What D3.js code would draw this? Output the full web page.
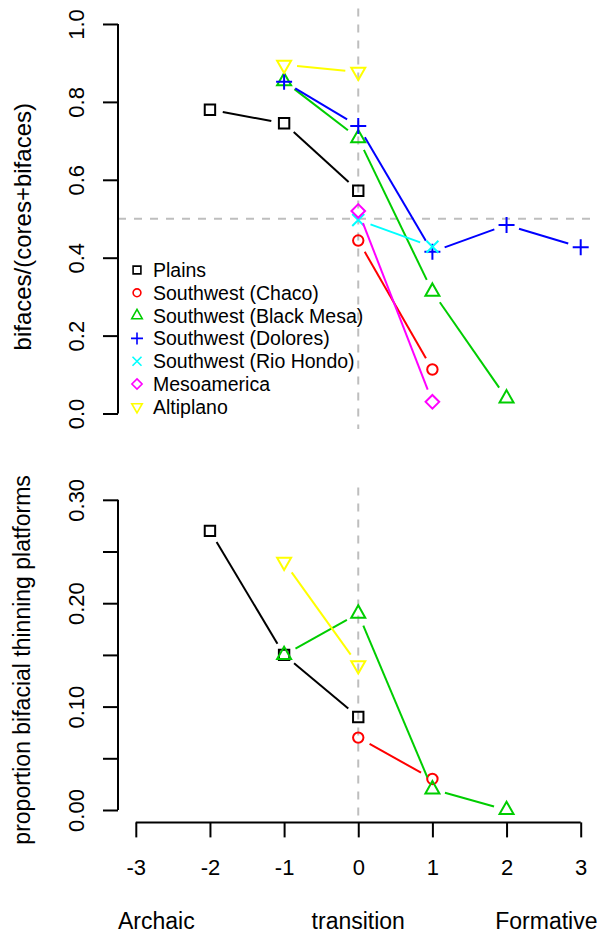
<!DOCTYPE html>
<html>
<head>
<meta charset="utf-8">
<script src="https://cdn.jsdelivr.net/npm/d3@7/dist/d3.min.js"></script>
<style>
body { margin: 0; background: #fff; }
svg text { font-family: "Liberation Sans", Arial, Helvetica, sans-serif; fill: #000; }
</style>
</head>
<body>
<div id="chart"></div>
<script>
var periods = [-3, -2, -1, 0, 1, 2, 3];
var eraLabels = ["Archaic", "transition", "Formative"];
var regions = ["Plains", "Southwest (Chaco)", "Southwest (Black Mesa)", "Southwest (Dolores)",
               "Southwest (Rio Hondo)", "Mesoamerica", "Altiplano"];
var regionColors = ["#000000", "#ff0000", "#00cd00", "#0000ff", "#00ffff", "#ff00ff", "#ffff00"];
var regionSymbols = ["square", "circle", "triangleUp", "plus", "cross", "diamond", "triangleDown"];

// top panel: bifaces/(cores+bifaces)
var plainsX = [-2, -1, 0],          plainsBiface = [0.78, 0.745, 0.572];
var chacoX = [0, 1],                chacoBiface = [0.444, 0.113];
var blackMesaX = [-1, 0, 1, 2],     blackMesaBiface = [0.853, 0.707, 0.313, 0.039];
var doloresX = [-1, 0, 1, 2, 3],    doloresBiface = [0.852, 0.738, 0.415, 0.484, 0.427];
var rioHondoX = [0, 1],             rioHondoBiface = [0.497, 0.428];
var mesoX = [0, 1],                 mesoBiface = [0.52, 0.03];
var altiplanoX = [-1, 0],           altiplanoBiface = [0.895, 0.877];

// bottom panel: proportion bifacial thinning platforms
var plainsBtfX = [-2, -1, 0],       plainsBtf = [0.27, 0.15, 0.09];
var chacoBtfX = [0, 1],             chacoBtf = [0.07, 0.03];
var blackMesaBtfX = [-1, 0, 1, 2],  blackMesaBtf = [0.15, 0.19, 0.02, 0.0];
var altiplanoBtfX = [-1, 0],        altiplanoBtf = [0.24, 0.14];

var topTicks = [0, 0.2, 0.4, 0.6, 0.8, 1.0];
var bottomTicks = [0, 0.05, 0.10, 0.15, 0.20, 0.25, 0.30];
var bottomLabelTicks = [0, 0.10, 0.20, 0.30];

var topSeries = [
  {r: 0, x: plainsX, y: plainsBiface},
  {r: 1, x: chacoX, y: chacoBiface},
  {r: 2, x: blackMesaX, y: blackMesaBiface},
  {r: 3, x: doloresX, y: doloresBiface},
  {r: 4, x: rioHondoX, y: rioHondoBiface},
  {r: 5, x: mesoX, y: mesoBiface},
  {r: 6, x: altiplanoX, y: altiplanoBiface}
];
var bottomSeries = [
  {r: 0, x: plainsBtfX, y: plainsBtf},
  {r: 1, x: chacoBtfX, y: chacoBtf},
  {r: 2, x: blackMesaBtfX, y: blackMesaBtf},
  {r: 6, x: altiplanoBtfX, y: altiplanoBtf}
];

var W = 597, H = 935;
var svg = d3.select("#chart").append("svg")
            .attr("width", W)
            .attr("height", H);

var x = d3.scaleLinear().domain([-3.24, 3.24]).range([118, 598.5]);
var yTop = d3.scaleLinear().domain([-0.04, 1.04]).range([429.1, 8.4]);
var yBot = d3.scaleLinear().domain([-0.012, 0.312]).range([822.4, 487.4]);

var symbolPath = function(type, k) {
  var s = 5.2 * k, p = 8 * k, c = 6 * k, d = 6.8 * k;
  var tr = 8.2 * k, tx = 7 * k, ty = 4.1 * k;
  switch (type) {
    case "square": return "M" + (-s) + "," + (-s) + "h" + 2 * s + "v" + 2 * s + "h" + (-2 * s) + "Z";
    case "circle": var r = 5.2 * k;
      return "M" + r + ",0A" + r + "," + r + " 0 1,1 " + (-r) + ",0A" + r + "," + r + " 0 1,1 " + r + ",0Z";
    case "triangleUp": return "M0," + (-tr) + "L" + tx + "," + ty + "L" + (-tx) + "," + ty + "Z";
    case "triangleDown": return "M0," + tr + "L" + tx + "," + (-ty) + "L" + (-tx) + "," + (-ty) + "Z";
    case "plus": return "M" + (-p) + ",0H" + p + "M0," + (-p) + "V" + p;
    case "cross": return "M" + (-c) + "," + (-c) + "L" + c + "," + c + "M" + (-c) + "," + c + "L" + c + "," + (-c);
    case "diamond": return "M0," + (-d) + "L" + d + ",0L0," + d + "L" + (-d) + ",0Z";
  }
};

// type="b" style: segments stop short of the points
var drawSeries = function(g, series, yScale) {
  var gap = 13;
  series.forEach(function(s) {
    var col = regionColors[s.r];
    var pts = s.x.map(function(v, i) { return [x(v), yScale(s.y[i])]; });
    var sg = g.append("g");
    for (var i = 0; i < pts.length - 1; i++) {
      var a = pts[i], b = pts[i + 1];
      var dx = b[0] - a[0], dy = b[1] - a[1], len = Math.sqrt(dx * dx + dy * dy);
      if (len <= 2 * gap) continue;
      var ux = dx / len, uy = dy / len;
      sg.append("line")
        .attr("x1", a[0] + ux * gap).attr("y1", a[1] + uy * gap)
        .attr("x2", b[0] - ux * gap).attr("y2", b[1] - uy * gap)
        .style("stroke", col)
        .style("stroke-width", 2);
    }
    sg.selectAll("path.pt")
      .data(pts)
      .enter().append("path")
      .attr("class", "pt")
      .attr("transform", function(d) { return "translate(" + d[0] + "," + d[1] + ")"; })
      .attr("d", symbolPath(regionSymbols[s.r], 1))
      .style("fill", "none")
      .style("stroke", col)
      .style("stroke-width", 2);
  });
};

var leftAxis = function(g, yScale, ticks, labelTicks, fmt) {
  g.attr("transform", "translate(" + x.range()[0] + ",0)")
   .call(d3.axisLeft(yScale).tickValues(ticks).tickSize(15)
           .tickFormat(function(d) {
             return labelTicks.some(function(t) { return Math.abs(t - d) < 1e-9; }) ? fmt(d) : "";
           }));
  g.select(".domain").remove();
  g.append("line")
   .attr("y1", yScale(d3.min(ticks))).attr("y2", yScale(d3.max(ticks)))
   .style("stroke", "#000").style("stroke-width", 2);
  g.selectAll(".tick line").style("stroke", "#000").style("stroke-width", 2);
  g.selectAll(".tick text")
   .attr("x", 0).attr("y", -42).attr("dy", "0.36em")
   .attr("transform", "rotate(-90)")
   .style("text-anchor", "middle")
   .style("font-size", "22px")
   .style("font-family", "'Liberation Sans', Arial, sans-serif");
};

// top panel
var topPanel = svg.append("g");
topPanel.append("line")
   .attr("x1", x(0)).attr("x2", x(0))
   .attr("y1", yTop.range()[1]).attr("y2", yTop.range()[0])
   .style("stroke", "#bebebe").style("stroke-width", 2).style("stroke-dasharray", "8,8");
topPanel.append("line")
   .attr("x1", x.range()[0]).attr("x2", x.range()[1])
   .attr("y1", yTop(0.5)).attr("y2", yTop(0.5))
   .style("stroke", "#bebebe").style("stroke-width", 2).style("stroke-dasharray", "8,8");
leftAxis(topPanel.append("g"), yTop, topTicks, topTicks, d3.format(".1f"));
drawSeries(topPanel.append("g"), topSeries, yTop);

svg.append("text")
   .attr("transform", "translate(22," + (d3.mean(yTop.range()) + 8) + ") rotate(-90)")
   .attr("dy", "0.36em")
   .style("text-anchor", "middle")
   .style("font-size", "24px")
   .text("bifaces/(cores+bifaces)");

// legend
var legend = svg.append("g").attr("transform", "translate(137,270)");
regions.forEach(function(name, i) {
  var row = legend.append("g").attr("transform", "translate(0," + i * 22.8 + ")");
  row.append("path")
     .attr("d", symbolPath(regionSymbols[i], 0.75))
     .style("fill", "none")
     .style("stroke", regionColors[i])
     .style("stroke-width", 1.6);
  row.append("text")
     .attr("x", 16)
     .attr("dy", "0.36em")
     .style("font-size", "19.5px")
     .text(name);
});

// bottom panel
var botPanel = svg.append("g");
botPanel.append("line")
   .attr("x1", x(0)).attr("x2", x(0))
   .attr("y1", yBot.range()[1]).attr("y2", yBot.range()[0])
   .style("stroke", "#bebebe").style("stroke-width", 2).style("stroke-dasharray", "8,8");
leftAxis(botPanel.append("g"), yBot, bottomTicks, bottomLabelTicks, d3.format(".2f"));
drawSeries(botPanel.append("g"), bottomSeries, yBot);

var xa = botPanel.append("g")
            .attr("transform", "translate(0," + yBot.range()[0] + ")")
            .call(d3.axisBottom(x).tickValues(periods).tickSize(15)
                    .tickFormat(function(d) { return String(d); }));
xa.select(".domain").remove();
xa.append("line")
  .attr("x1", x(d3.min(periods))).attr("x2", x(d3.max(periods)))
  .style("stroke", "#000").style("stroke-width", 2);
xa.selectAll(".tick line").style("stroke", "#000").style("stroke-width", 2);
xa.selectAll(".tick text")
  .attr("y", 45).attr("dy", "0.36em")
  .style("font-size", "22px")
  .style("font-family", "'Liberation Sans', Arial, sans-serif");

svg.append("text")
   .attr("transform", "translate(22," + (d3.mean(yBot.range()) + 5) + ") rotate(-90)")
   .attr("dy", "0.36em")
   .style("text-anchor", "middle")
   .style("font-size", "23px")
   .text("proportion bifacial thinning platforms");

// era labels along the bottom margin: left, centre (x=0), right of plot region
var eraX = [x.range()[0], x(0), x.range()[1] - 1];
var eraAnchor = ["start", "middle", "end"];
svg.selectAll("text.era")
   .data(eraLabels)
   .enter().append("text")
   .attr("class", "era")
   .attr("x", function(d, i) { return eraX[i]; })
   .attr("y", 921)
   .attr("dy", "0.36em")
   .style("text-anchor", function(d, i) { return eraAnchor[i]; })
   .style("font-size", "23px")
   .text(function(d) { return d; });
</script>
</body>
</html>
